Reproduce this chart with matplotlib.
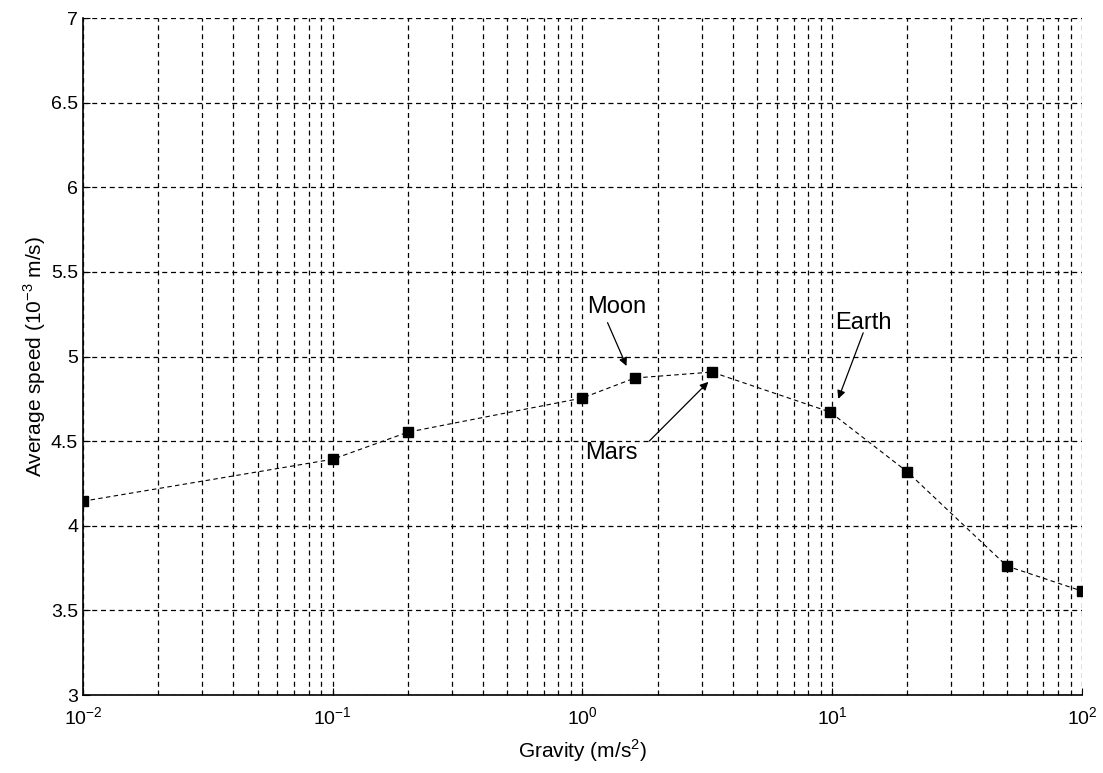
import numpy as np
import matplotlib
matplotlib.use("Agg")
import matplotlib.pyplot as plt
from matplotlib.ticker import LogLocator, NullFormatter

plt.rcParams['font.family'] = ['Liberation Sans', 'DejaVu Sans']
plt.rcParams['mathtext.fontset'] = 'custom'
plt.rcParams['mathtext.rm'] = 'Liberation Sans'

gravity = [0.01, 0.1, 0.2, 1.0, 1.62, 3.3, 9.8, 20, 50, 100]
speed = [4.145, 4.393, 4.553, 4.755, 4.873, 4.908, 4.672, 4.318, 3.762, 3.614]

yticks = [3, 3.5, 4, 4.5, 5, 5.5, 6, 6.5, 7]
ytick_labels = ["3", "3.5", "4", "4.5", "5", "5.5", "6", "6.5", "7"]

# annotations: label, text position, arrow tail, arrow tip
notes = [
    ("Moon", (1.37, 5.29), (1.26, 5.20), (1.50, 4.944)),
    ("Mars", (1.31, 4.43), (1.85, 4.50), (3.19, 4.85)),
    ("Earth", (13.3, 5.20), (13.3, 5.14), (10.57, 4.75)),
]


def main():
    fig = plt.figure(figsize=(11.03, 7.73), dpi=100)
    ax = fig.add_axes([0.0752, 0.1009, 0.9058, 0.8758])

    ax.semilogx(gravity, speed, color="black", lw=0.8, ls=(0, (4, 3)),
                marker="s", ms=6.5, mfc="black", mec="black")

    ax.set_xlim(1e-2, 1e2)
    ax.set_ylim(3, 7)
    ax.set_yticks(yticks, ytick_labels)
    ax.xaxis.set_major_locator(LogLocator(base=10, numticks=10))
    ax.xaxis.set_minor_locator(LogLocator(base=10, subs=np.arange(2, 10), numticks=20))
    ax.xaxis.set_minor_formatter(NullFormatter())

    ax.grid(True, which="major", axis="both", color="black", lw=0.9, ls=(0, (4, 3)))
    ax.grid(True, which="minor", axis="x", color="black", lw=0.9, ls=(0, (4, 3)))

    for side in ("top", "right"):
        ax.spines[side].set_visible(False)
    ax.spines["left"].set_linewidth(1.2)
    ax.spines["bottom"].set_linewidth(1.2)
    ax.tick_params(which="both", direction="in", labelsize=14, colors="black")
    ax.tick_params(which="major", length=5)
    ax.tick_params(which="minor", length=3)
    ax.tick_params(axis="x", pad=8)

    ax.set_xlabel("Gravity (m/s$^2$)", fontsize=15, labelpad=7)
    ax.set_ylabel("Average speed (10$^{-3}$ m/s)", fontsize=15, labelpad=2)

    for label, txt, tail, tip in notes:
        ax.text(txt[0], txt[1], label, fontsize=17, ha="center", va="center")
        ax.annotate("", xy=tip, xytext=tail,
                    arrowprops=dict(arrowstyle="-|>", color="black", lw=0.9,
                                    mutation_scale=12, shrinkA=0, shrinkB=0))

    fig.savefig("out.png", dpi=100)


if __name__ == '__main__':
    main()
